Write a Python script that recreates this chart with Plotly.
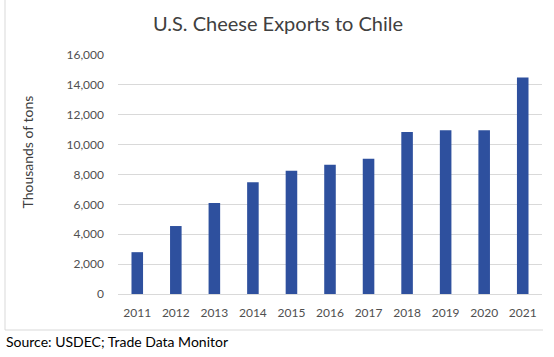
import plotly.graph_objects as go

years = ["2011", "2012", "2013", "2014", "2015", "2016", "2017", "2018", "2019", "2020", "2021"]
exports = [2800, 4550, 6100, 7480, 8250, 8650, 9050, 10850, 10970, 10970, 14500]
y_ticks = [0, 2000, 4000, 6000, 8000, 10000, 12000, 14000, 16000]

title_text = "U.S. Cheese Exports to Chile"
y_title = "Thousands of tons"
source_text = "Source: USDEC; Trade Data Monitor"

W, H = 554, 357
L, R, T, B = 118, 12, 55, 63
pw, ph = W - L - R, H - T - B

def px_x(x):
    return (x - L) / pw

def px_y(y):
    return (H - B - y) / ph

FONT = "Lato"
GRID = "#d9d9d9"

fig = go.Figure(go.Bar(x=years, y=exports, marker_color="#2E509E", marker_line_width=0))

fig.update_layout(
    width=W, height=H,
    margin=dict(l=L, r=R, t=T, b=B, pad=0),
    paper_bgcolor="white", plot_bgcolor="white",
    bargap=0.70,
    showlegend=False,
    font=dict(family=FONT, color="#505050", size=12),
    title=dict(text=title_text, x=278 / W, xanchor="center", y=1 - 24 / H, yanchor="middle",
               xref="container", yref="container",
               font=dict(family=FONT, size=20, color="#404040")),
    xaxis=dict(showgrid=False, showline=True, linecolor=GRID, linewidth=1,
               ticks="", ticklabelstandoff=8, tickfont=dict(size=12, color="#505050")),
    yaxis=dict(range=[0, 16000], tickvals=y_ticks, tickformat=",", showgrid=True,
               gridcolor=GRID, gridwidth=1, zeroline=True, zerolinecolor=GRID,
               zerolinewidth=1, showline=False, ticks="", ticklabelstandoff=13,
               tickfont=dict(size=12, color="#505050")),
    shapes=[
        dict(type="line", xref="paper", yref="paper", x0=px_x(5), x1=px_x(5),
             y0=px_y(0), y1=px_y(330), line=dict(color=GRID, width=1)),
        dict(type="line", xref="paper", yref="paper", x0=px_x(5), x1=px_x(543),
             y0=px_y(330), y1=px_y(330), line=dict(color=GRID, width=1)),
    ],
    annotations=[
        dict(text=y_title, xref="paper", yref="paper", x=px_x(27), y=px_y(152.5),
             xanchor="center", yanchor="middle", textangle=-90, showarrow=False,
             font=dict(family=FONT, size=14, color="#404040")),
        dict(text=source_text, xref="paper", yref="paper", x=px_x(4), y=px_y(341),
             xanchor="left", yanchor="middle", showarrow=False,
             font=dict(family=FONT, size=14, color="#000000")),
    ],
)

fig.write_html("out.html", config={"displayModeBar": False, "staticPlot": True},
               post_script="document.body.style.margin='0';document.body.style.overflow='hidden';")
